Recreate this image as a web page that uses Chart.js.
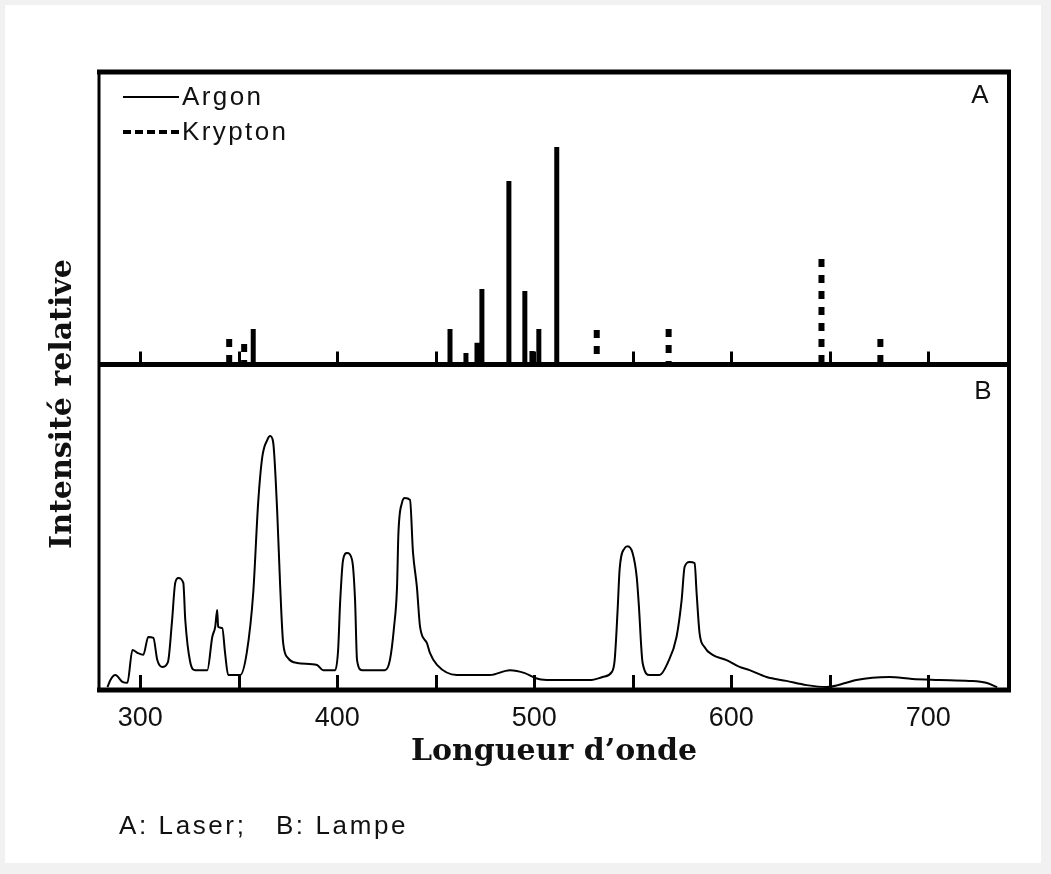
<!DOCTYPE html>
<html>
<head>
<meta charset="utf-8">
<script src="https://cdn.jsdelivr.net/npm/chart.js@4/dist/chart.umd.min.js"></script>
<style>
  html, body { margin: 0; padding: 0; background: #f1f1f1; }
  body { width: 1051px; height: 874px; position: relative; overflow: hidden; }
  #panel { position: absolute; left: 5px; top: 5px; width: 1036px; height: 858px; background: #ffffff; }
  #wrap { position: absolute; left: 0; top: 0; width: 1051px; height: 874px; }
  #caption { position: absolute; left: 119px; top: 809px; font-family: 'Liberation Sans', Arial, sans-serif;
             font-size: 26px; letter-spacing: 2.6px; color: #111; white-space: pre; line-height: 32px; }
</style>
</head>
<body>
<div id="panel"></div>
<div id="wrap"><canvas id="c" width="1051" height="874"></canvas></div>
<div id="caption">A: Laser;   B: Lampe</div>
<script>
// ---- Data ----
const argonWavelengths = [357.3, 457.2, 465.3, 470.9, 473.4, 487.1, 495.2, 498.8, 502.3, 511.4];
const argonIntensity   = [12.1, 12.1, 3.9, 7.4, 25.8, 62.7, 25.1, 4.6, 12.1, 74.4];
const kryptonWavelengths = [345.1, 352.7, 531.7, 568.2, 645.8, 675.7];
const kryptonIntensity   = [8.7, 7.0, 11.8, 12.1, 36.1, 8.7];

const lampWavelengths = [283.3,284.8,287.3,290.9,293.4,296.0,298.5,301.5,304.0,306.6,308.6,311.0,314.0,316.0,317.7,319.3,321.8,322.8,325.3,327.9,334.0,336.5,338.0,339.0,339.5,341.6,343.0,344.6,350.7,354.0,357.3,359.8,361.9,364.4,365.9,367.4,369.5,371.0,372.5,375.0,379.6,389.7,392.8,398.9,400.4,401.4,402.9,404.9,407.5,409.0,410.0,412.5,424.2,426.7,428.8,430.3,431.0,432.8,434.3,436.9,438.4,440.4,442.0,445.5,447.0,450.6,460.7,477.4,487.6,495.2,500.3,506.3,529.2,534.7,539.3,540.8,542.3,543.3,545.9,547.4,549.9,552.0,553.0,555.0,558.6,563.6,567.7,572.2,574.8,576.3,578.8,581.4,582.4,583.9,586.4,590.5,597.6,604.2,609.3,617.9,628.0,638.2,648.3,658.4,663.5,680.2,691.9,705.6,720.8,729.4,735.0];
const lampIntensity = [0.9,3.1,4.6,2.5,2.2,12.3,11.4,10.8,16.3,16.0,9.2,7.1,8.6,20.6,32.9,34.4,32.9,21.5,8.6,6.1,6.1,16.3,19.4,24.6,19.4,19.0,11.4,4.6,4.6,11.4,29.8,57.5,71.6,76.8,78.0,76.2,54.4,31.6,14.4,9.8,8.3,7.7,6.1,6.1,12.3,26.7,39.9,42.1,39.9,27.6,9.2,6.1,6.1,9.2,19.4,31.6,48.0,57.5,59.0,58.4,42.4,31.6,19.4,14.4,11.4,7.7,4.6,4.6,6.1,5.2,3.7,3.1,3.1,4.0,5.5,9.2,24.6,36.9,43.6,44.2,42.1,34.7,26.7,8.3,4.6,4.6,8.3,16.3,27.6,37.8,39.3,39.0,29.8,17.5,13.2,10.8,9.2,7.1,6.1,4.0,2.8,1.5,0.9,2.2,3.1,4.0,3.4,3.1,2.8,2.2,0.9];

const xMin = 279, xMax = 741, xStep = 50;
const seriesLabels = ['Argon', 'Krypton', 'Lampe'];
const panelLabels = ['A', 'B'];
const xTitle = 'Longueur d\u2019onde';
const yTitle = 'Intensit\u00e9 relative';

// build vertical line segments for emission lines
function sticks(wl, val) {
  const pts = [];
  wl.forEach((w, i) => {
    pts.push({x: w, y: val[i]});
    pts.push({x: w, y: 0});
    pts.push({x: w, y: null});
  });
  return pts;
}
const lampData = lampWavelengths.map((w, i) => ({x: w, y: lampIntensity[i]}));

const serifBold = "'DejaVu Serif', 'Liberation Serif', serif";
const sans = "'Liberation Sans', Arial, sans-serif";

const decor = {
  id: 'decor',
  afterDatasetsDraw(chart) {
    const ctx = chart.ctx;
    const a = chart.chartArea;
    const xs = chart.scales.x;
    const yA = chart.scales.yA;
    const div = yA.bottom;
    ctx.save();
    ctx.strokeStyle = '#000';
    ctx.lineCap = 'butt';
    // inner ticks
    ctx.lineWidth = 3;
    xs.ticks.forEach(t => {
      const px = Math.round(xs.getPixelForValue(t.value)) + 0.5;
      ctx.beginPath(); ctx.moveTo(px, a.bottom); ctx.lineTo(px, a.bottom - 15); ctx.stroke();
      ctx.beginPath(); ctx.moveTo(px, div); ctx.lineTo(px, div - 13); ctx.stroke();
    });
    // frame
    ctx.lineWidth = 5;
    ctx.beginPath(); ctx.moveTo(a.left - 2, a.top); ctx.lineTo(a.right + 2, a.top); ctx.stroke();
    ctx.beginPath(); ctx.moveTo(a.left - 2, a.bottom); ctx.lineTo(a.right + 2, a.bottom); ctx.stroke();
    ctx.beginPath(); ctx.moveTo(a.left, div); ctx.lineTo(a.right, div); ctx.stroke();
    ctx.lineWidth = 3;
    ctx.beginPath(); ctx.moveTo(a.left, a.top); ctx.lineTo(a.left, a.bottom); ctx.stroke();
    ctx.lineWidth = 4;
    ctx.beginPath(); ctx.moveTo(a.right, a.top); ctx.lineTo(a.right, a.bottom); ctx.stroke();

    // legend
    const ds = chart.data.datasets;
    ctx.fillStyle = '#111';
    ctx.font = '26px ' + sans;
    ctx.letterSpacing = '2.4px';
    ctx.textBaseline = 'middle';
    ctx.textAlign = 'left';
    const lx0 = a.left + 24, lx1 = a.left + 80;
    const legendY = [a.top + 25, a.top + 60];
    [0, 1].forEach(i => {
      ctx.lineWidth = i === 0 ? 2 : 4;
      ctx.setLineDash(i === 0 ? [] : [8, 4]);
      ctx.beginPath(); ctx.moveTo(lx0, legendY[i]); ctx.lineTo(lx1, legendY[i]); ctx.stroke();
      ctx.setLineDash([]);
      ctx.fillText(ds[i].label, lx1 + 3, legendY[i] + 1);
    });
    // panel letters
    ctx.letterSpacing = '0px';
    ctx.textAlign = 'center';
    ctx.fillText(panelLabels[0], a.right - 29, a.top + 24);
    ctx.fillText(panelLabels[1], a.right - 26, div + 27);

    // y title
    ctx.font = 'bold 30px ' + serifBold;
    ctx.translate(63, 404);
    ctx.rotate(-Math.PI / 2);
    ctx.textAlign = 'center';
    ctx.fillText(yTitle, 0, 0);
    ctx.restore();
  }
};

new Chart(document.getElementById('c'), {
  type: 'line',
  data: {
    datasets: [
      { label: seriesLabels[0], data: sticks(argonWavelengths, argonIntensity), yAxisID: 'yA',
        borderColor: '#000', borderWidth: 5, pointRadius: 0, spanGaps: false, borderCapStyle: 'butt' },
      { label: seriesLabels[1], data: sticks(kryptonWavelengths, kryptonIntensity), yAxisID: 'yA',
        borderColor: '#000', borderWidth: 6, borderDash: [8, 8], pointRadius: 0, spanGaps: false, borderCapStyle: 'butt' },
      { label: seriesLabels[2], data: lampData, yAxisID: 'yB',
        borderColor: '#000', borderWidth: 2, pointRadius: 0, cubicInterpolationMode: 'monotone' }
    ]
  },
  options: {
    responsive: false,
    animation: false,
    events: [],
    layout: { padding: { left: 99, right: 42, top: 72, bottom: 84 } },
    plugins: { legend: { display: false }, tooltip: { enabled: false } },
    scales: {
      x: {
        type: 'linear', position: 'bottom', min: xMin, max: xMax,
        afterFit: s => { s.height = 100; },
        afterBuildTicks: s => {
          const t = [];
          for (let v = Math.ceil(xMin / xStep) * xStep; v <= xMax; v += xStep) t.push({value: v});
          s.ticks = t;
        },
        ticks: {
          autoSkip: false, maxRotation: 0, padding: 12, color: '#111',
          font: { family: sans, size: 27 },
          callback: v => (v % 100 === 0 ? String(v) : '')
        },
        grid: { display: false, drawTicks: false },
        border: { display: false },
        title: { display: true, text: xTitle, color: '#111',
                 font: { family: serifBold, size: 30, weight: 'bold' }, padding: { top: 0, bottom: 20 } }
      },
      yB: { type: 'linear', position: 'left', stack: 'panels', stackWeight: 325.5, min: 0, max: 100, display: false },
      yA: { type: 'linear', position: 'left', stack: 'panels', stackWeight: 292.5, min: 0, max: 100, display: false }
    }
  },
  plugins: [decor]
});
</script>
</body>
</html>
